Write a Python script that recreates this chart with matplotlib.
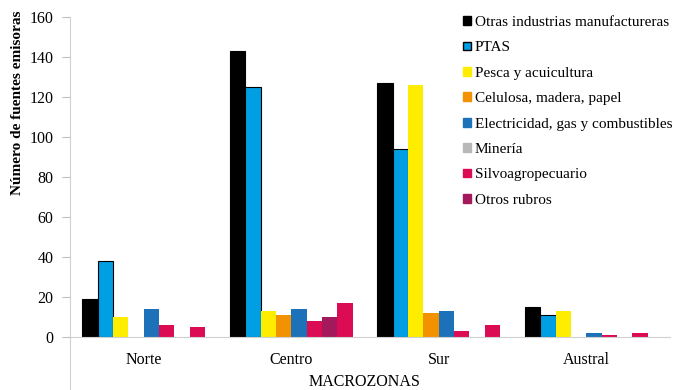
import numpy as np
import matplotlib.pyplot as plt
from matplotlib.patches import Patch

plt.rcParams['font.family'] = ['Liberation Serif', 'DejaVu Serif']

zonas = ["Norte", "Centro", "Sur", "Austral"]

# series in the order the bars are drawn inside each group
otras = [19, 143, 127, 15]
ptas = [38, 125, 94, 11]
pesca = [10, 13, 126, 13]
celulosa = [0, 11, 12, 0]
electricidad = [14, 14, 13, 2]
mineria = [6, 8, 3, 1]
otros_rubros = [0, 10, 0, 0]
silvo = [5, 17, 6, 2]

series = [
    ("Otras industrias manufactureras", otras, "#000000", "#000000", "#000000"),
    ("PTAS", ptas, "#009fe3", "#000000", "#009fe3"),
    ("Pesca y acuicultura", pesca, "#ffed00", "none", "#ffed00"),
    ("Celulosa, madera, papel", celulosa, "#f39200", "none", "#f39200"),
    ("Electricidad, gas y combustibles", electricidad, "#1d71b8", "none", "#1d71b8"),
    ("Minería", mineria, "#dc0c54", "none", "#b8b8b8"),
    ("Otros rubros", otros_rubros, "#a3195b", "none", "#a3195b"),
    ("Silvoagropecuario", silvo, "#dc0c54", "none", "#dc0c54"),
]
legend_order = [0, 1, 2, 3, 4, 5, 7, 6]

fig = plt.figure(figsize=(6.73, 3.9), dpi=100)
ax = fig.add_axes([70 / 673, 53 / 390, 590 / 673, 320 / 390])

x = np.arange(len(zonas))
w = 0.104
n = len(series)
handles = []
for i, (name, vals, col, edge, lcol) in enumerate(series):
    off = (i - (n - 1) / 2) * w
    ax.bar(x + off, vals, width=w, color=col,
           edgecolor=edge, linewidth=0.8 if edge != "none" else 0)
    handles.append(Patch(facecolor=lcol, edgecolor=edge if edge != "none" else lcol,
                         linewidth=1.0, label=name))

ax.set_xlim(-0.5, 3.5)
ax.set_ylim(0, 160)
ax.set_yticks(np.arange(0, 161, 20))
ax.set_xticks(x)
ax.set_xticklabels(zonas)
ax.tick_params(axis='y', colors='#bfbfbf', labelcolor='black', labelsize=11.5,
               direction='out', length=6, width=0.8, pad=6)
ax.tick_params(axis='x', length=0, labelsize=11.5, pad=11)

for s in ["top", "right"]:
    ax.spines[s].set_visible(False)
ax.spines["left"].set_color("#d0d0d0")
ax.spines["bottom"].set_color("#d0d0d0")
ax.spines["bottom"].set_bounds(-0.5, 3.57)
# vertical axis line continues down through the category labels
ax.plot([-0.5, -0.5], [0, -27], color="#d0d0d0", lw=0.8, clip_on=False)

fig.text(18 / 673, 1 - 103 / 390, "Número de fuentes emisoras", rotation=90,
         ha="center", va="center", fontsize=11, fontweight="bold")
fig.text(365 / 673, 1 - 382 / 390, "MACROZONAS", ha="center", va="center",
         fontsize=11.5)

leg = ax.legend([handles[i] for i in legend_order],
                [handles[i].get_label() for i in legend_order],
                loc="upper left", bbox_to_anchor=(457 / 673, 1 - 10 / 390),
                bbox_transform=fig.transFigure, frameon=False, fontsize=11,
                handlelength=0.5, handleheight=0.5, handletextpad=0.25,
                labelspacing=0.81, borderaxespad=0)

fig.savefig("out.png", dpi=100)
